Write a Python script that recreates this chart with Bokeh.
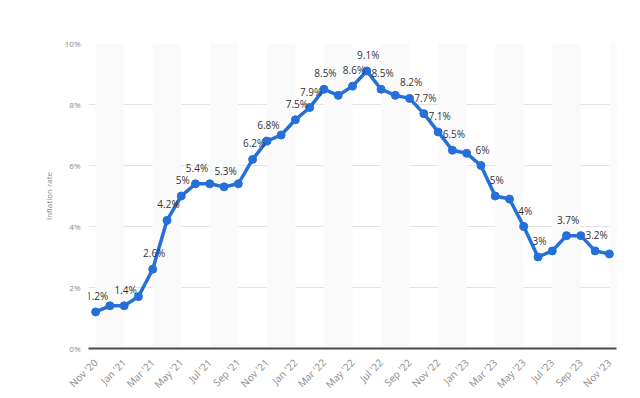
from bokeh.plotting import figure
from bokeh.models import FixedTicker, Range1d, ColumnDataSource
from bokeh.core.properties import value
from bokeh.embed import file_html
from bokeh.resources import INLINE

months = ["Nov '20", "Dec '20", "Jan '21", "Feb '21", "Mar '21", "Apr '21", "May '21",
          "Jun '21", "Jul '21", "Aug '21", "Sep '21", "Oct '21", "Nov '21", "Dec '21",
          "Jan '22", "Feb '22", "Mar '22", "Apr '22", "May '22", "Jun '22", "Jul '22",
          "Aug '22", "Sep '22", "Oct '22", "Nov '22", "Dec '22", "Jan '23", "Feb '23",
          "Mar '23", "Apr '23", "May '23", "Jun '23", "Jul '23", "Aug '23", "Sep '23",
          "Oct '23", "Nov '23"]
inflation = [1.2, 1.4, 1.4, 1.7, 2.6, 4.2, 5.0, 5.4, 5.4, 5.3, 5.4, 6.2, 6.8, 7.0,
             7.5, 7.9, 8.5, 8.3, 8.6, 9.1, 8.5, 8.3, 8.2, 7.7, 7.1, 6.5, 6.4, 6.0,
             5.0, 4.9, 4.0, 3.0, 3.2, 3.7, 3.7, 3.2, 3.1]
point_labels = ["1.2%", "", "1.4%", "", "2.6%", "4.2%", "5%", "5.4%", "", "5.3%", "",
                "6.2%", "6.8%", "", "7.5%", "7.9%", "8.5%", "", "8.6%", "9.1%", "8.5%",
                "", "8.2%", "7.7%", "7.1%", "6.5%", "", "6%", "5%", "", "4%", "3%", "",
                "3.7%", "", "3.2%", ""]
y_ticks = [0, 2, 4, 6, 8, 10]
y_tick_labels = ["0%", "2%", "4%", "6%", "8%", "10%"]
y_axis_title = "Inflation rate"

x = list(range(len(months)))
x_ticks = x[::2]

p = figure(width=610, height=388, output_backend="svg", toolbar_location=None,
           x_range=Range1d(-0.5, len(months) - 0.5), y_range=Range1d(y_ticks[0], y_ticks[-1]),
           min_border_left=75, min_border_right=7, min_border_top=33, min_border_bottom=50,
           margin=(10, 17, 0, 13))
p.background_fill_color = "white"
p.border_fill_color = "white"
p.outline_line_color = None

# alternating vertical bands
band_left = x_ticks[0::2]
band_right = [b + 2 for b in band_left]
p.quad(left=band_left, right=band_right, bottom=y_ticks[0], top=y_ticks[-1],
       fill_color="#fafafb", line_color=None)

src = ColumnDataSource(dict(x=x, y=inflation, lab=point_labels))
p.line("x", "y", source=src, line_color="#2570d8", line_width=3.5, line_join="round")
p.scatter("x", "y", source=src, size=8, fill_color="#2570d8", line_color="#2570d8")
p.text("x", "y", text="lab", source=src, text_align="center", text_baseline="middle",
       x_offset=1.5, y_offset=-16, text_font=value("Open Sans"), text_font_size="10px",
       text_color="#333333", text_font_style="normal")

# axes
p.xaxis.ticker = FixedTicker(ticks=x_ticks)
p.xaxis.major_label_overrides = {t: months[t] for t in x_ticks}
p.xaxis.major_label_orientation = 0.785398
p.xaxis.axis_line_color = "#4a4a4a"
p.xaxis.axis_line_width = 2
p.xaxis.major_tick_line_color = None
p.xaxis.minor_tick_line_color = None
p.xaxis.major_tick_out = 0
p.xaxis.major_label_text_font = "Open Sans"
p.xaxis.major_label_text_font_size = "10px"
p.xaxis.major_label_text_color = "#8a8a8a"
p.xaxis.major_label_standoff = 12

p.yaxis.ticker = FixedTicker(ticks=y_ticks)
p.yaxis.major_label_overrides = {t: l for t, l in zip(y_ticks, y_tick_labels)}
p.yaxis.axis_line_color = None
p.yaxis.major_tick_line_color = None
p.yaxis.minor_tick_line_color = None
p.yaxis.major_tick_out = 0
p.yaxis.major_label_text_font = "Open Sans"
p.yaxis.major_label_text_font_size = "8px"
p.yaxis.major_label_text_color = "#8a8a8a"
p.yaxis.major_label_standoff = 8
p.yaxis.axis_label = y_axis_title
p.yaxis.axis_label_text_font = "Open Sans"
p.yaxis.axis_label_text_font_size = "8px"
p.yaxis.axis_label_text_font_style = "normal"
p.yaxis.axis_label_text_color = "#8a8a8a"
p.yaxis.axis_label_standoff = 8

p.xgrid.grid_line_color = None
p.ygrid.ticker = FixedTicker(ticks=y_ticks[1:])
p.ygrid.grid_line_color = "#e3e3e3"
p.ygrid.grid_line_width = 1

html = file_html(p, INLINE)
html = html.replace("<body>", '<body style="background:#f4f5f7">', 1)
open("out.html", "w").write(html)
